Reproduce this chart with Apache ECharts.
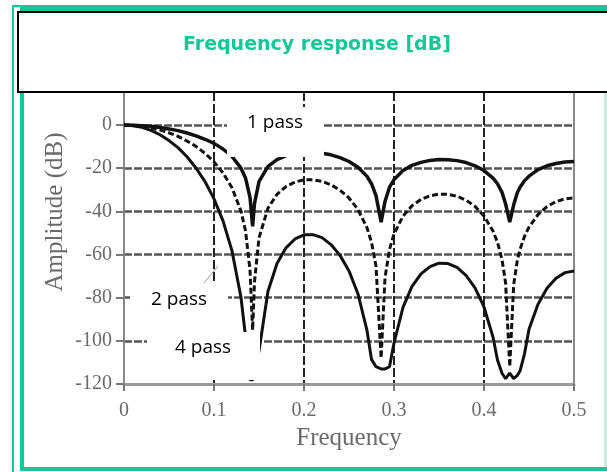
<!DOCTYPE html>
<html>
<head>
<meta charset="utf-8">
<script src="https://cdn.jsdelivr.net/npm/echarts@6/dist/echarts.min.js"></script>
<style>
html,body{margin:0;padding:0;background:#fff;overflow:hidden;}
#chart{width:607px;height:472px;}
</style>
</head>
<body>
<div id="chart"></div>
<script>
// Frequency (fraction of sampling rate)
const freq = [0,0.01,0.02,0.03,0.04,0.05,0.06,0.07,0.08,0.09,0.10,0.11,0.12,0.13,0.135,0.14,0.1429,0.145,0.15,0.16,0.17,0.18,0.19,0.20,0.21,0.22,0.23,0.24,0.25,0.26,0.27,0.275,0.28,0.2857,0.29,0.295,0.30,0.31,0.32,0.33,0.34,0.35,0.36,0.37,0.38,0.39,0.40,0.41,0.415,0.42,0.424,0.4286,0.433,0.437,0.44,0.445,0.45,0.46,0.47,0.48,0.49,0.50];
// Amplitude (dB)
const pass1 = [0,-0.1,-0.3,-0.6,-1.1,-1.8,-2.6,-3.7,-5.0,-6.6,-8.5,-11.1,-14.6,-20.0,-24.5,-33.5,-47,-36.3,-26.2,-19.2,-16.0,-14.2,-13.2,-12.7,-12.7,-13.1,-13.8,-15.1,-16.9,-19.6,-23.8,-27.2,-32.7,-45,-35.4,-28.8,-25.3,-21.1,-18.7,-17.3,-16.4,-16.0,-16.1,-16.5,-17.4,-18.9,-21.1,-24.6,-27.2,-31.2,-36.6,-45,-37.0,-31.4,-28.8,-25.8,-23.7,-20.7,-18.9,-17.8,-17.1,-16.9];
const pass2 = [0,-0.1,-0.6,-1.3,-2.3,-3.6,-5.3,-7.4,-9.9,-13.1,-17.1,-22.2,-29.1,-39.9,-49.0,-67.1,-95,-72.6,-52.3,-38.5,-32.1,-28.5,-26.4,-25.4,-25.4,-26.1,-27.7,-30.2,-33.8,-39.2,-47.6,-54.3,-65.4,-108,-70.8,-57.6,-50.5,-42.2,-37.4,-34.5,-32.8,-32.0,-32.1,-33.0,-34.8,-37.7,-42.2,-49.1,-54.4,-62.3,-73.2,-112,-73.9,-62.8,-57.7,-51.6,-47.3,-41.5,-37.8,-35.5,-34.2,-33.8];
const pass4 = [0,-0.3,-1.1,-2.5,-4.5,-7.2,-10.5,-14.7,-19.9,-26.2,-34.2,-44.4,-58.3,-79.9,-97.9,-118,-118,-117,-104.6,-77.0,-64.2,-56.9,-52.8,-50.9,-50.8,-52.2,-55.4,-60.4,-67.6,-78.3,-95.2,-108.6,-112,-113,-113,-112,-101.0,-84.5,-74.8,-69.0,-65.6,-64.0,-64.2,-66.0,-69.7,-75.5,-84.3,-98.3,-108.9,-115,-117.5,-115,-117.5,-116,-114,-106,-94.6,-83.0,-75.6,-71.0,-68.4,-67.6];
const seriesNames = ['1 pass', '2 pass', '4 pass'];
const titleText = 'Frequency response [dB]';
const xName = 'Frequency';
const yName = 'Amplitude (dB)';

const GREEN = '#12c898';
const SERIF = '"Liberation Serif", "DejaVu Serif", serif';
const SANS = '"Open Sans", "Noto Sans", sans-serif';

const chart = echarts.init(document.getElementById('chart'), null, {renderer: 'canvas'});
const pairs = arr => freq.map((f, i) => [f, arr[i]]);

const option = {
  animation: false,
  backgroundColor: '#fff',
  title: {
    text: titleText,
    left: 178,
    top: 31,
    textStyle: {color: GREEN, fontFamily: '"DejaVu Sans", sans-serif', fontWeight: 'bold', fontSize: 19},
    z: 20
  },
  grid: {
    left: 124, right: 33, top: 92, bottom: 88,
    show: true, borderColor: '#8a8a8a', borderWidth: 2, backgroundColor: 'transparent'
  },
  xAxis: {
    type: 'value', min: 0, max: 0.5, interval: 0.1,
    name: xName, nameLocation: 'middle', nameGap: 39,
    nameTextStyle: {fontFamily: SERIF, fontSize: 25, color: '#6a6a6a'},
    axisLine: {show: true, onZero: false, lineStyle: {color: '#999', width: 3}},
    axisTick: {show: true, length: 7, lineStyle: {color: '#777', width: 2}},
    axisLabel: {fontFamily: SERIF, fontSize: 20, color: '#6a6a6a', margin: 17},
    splitLine: {show: true, showMinLine: false, showMaxLine: false, lineStyle: {color: '#222', width: 2, type: [9, 3]}}
  },
  yAxis: {
    type: 'value', min: -120, max: 15.3, interval: 20,
    axisLine: {show: true, onZero: false, lineStyle: {color: '#888', width: 2}},
    axisTick: {show: true, length: 8, lineStyle: {color: '#777', width: 2}},
    axisLabel: {showMaxLabel: false, fontFamily: SERIF, fontSize: 20, color: '#6a6a6a', margin: 12},
    splitLine: {show: true, showMinLine: false, showMaxLine: false, lineStyle: {color: '#555', width: 2.5, type: [8, 2]}}
  },
  series: [
    {name: seriesNames[2], type: 'line', data: pairs(pass4), showSymbol: false, symbol: 'none', lineStyle: {color: '#111', width: 3}, z: 3},
    {name: seriesNames[1], type: 'line', data: pairs(pass2), showSymbol: false, symbol: 'none', lineStyle: {color: '#111', width: 3, type: [6, 3]}, z: 4},
    {name: seriesNames[0], type: 'line', data: pairs(pass1), showSymbol: false, symbol: 'none', lineStyle: {color: '#111', width: 3.5}, z: 5}
  ],
  graphic: [
    {type: 'polyline', z: 1, silent: true, shape: {points: [[13, 480], [13, 6], [620, 6]]}, style: {fill: 'none', stroke: GREEN, lineWidth: 2}},
    {type: 'polyline', z: 1, silent: true, shape: {points: [[620, 469], [22, 469], [22, 9], [620, 9]]}, style: {fill: 'none', stroke: GREEN, lineWidth: 4}},
    {type: 'line', z: 1, silent: true, shape: {x1: 605.5, y1: 93, x2: 605.5, y2: 467}, style: {stroke: '#c6efe0', lineWidth: 3}},
    {type: 'rect', z: 2, silent: true, shape: {x: 18, y: 12, width: 620, height: 80}, style: {fill: '#fff'}},
    {type: 'polyline', z: 3, silent: true, shape: {points: [[620, 12], [18, 12], [18, 92], [620, 92]]}, style: {fill: 'none', stroke: '#000', lineWidth: 2}},
    {type: 'text', z: 50, silent: true, x: 55, y: 212, rotation: Math.PI / 2,
      style: {text: yName, font: '25px ' + SERIF, fill: '#6a6a6a', textAlign: 'center', textVerticalAlign: 'middle'}},
    {type: 'line', z: 50, silent: true, shape: {x1: 199, y1: 289, x2: 218, y2: 266}, style: {stroke: '#999', lineWidth: 1}},
    {type: 'rect', z: 60, silent: true, shape: {x: 227, y: 107, width: 97, height: 50}, style: {fill: '#fff'}},
    {type: 'text', z: 61, silent: true, x: 275, y: 123, style: {text: seriesNames[0], font: '19px ' + SANS, fill: '#000', textAlign: 'center', textVerticalAlign: 'middle'}},
    {type: 'rect', z: 60, silent: true, shape: {x: 130, y: 283, width: 98, height: 49}, style: {fill: '#fff'}},
    {type: 'text', z: 61, silent: true, x: 179, y: 300, style: {text: seriesNames[1], font: '19px ' + SANS, fill: '#000', textAlign: 'center', textVerticalAlign: 'middle'}},
    {type: 'rect', z: 60, silent: true, shape: {x: 147, y: 332, width: 113, height: 48}, style: {fill: '#fff'}},
    {type: 'text', z: 61, silent: true, x: 203, y: 348, style: {text: seriesNames[2], font: '19px ' + SANS, fill: '#000', textAlign: 'center', textVerticalAlign: 'middle'}}
  ]
};
chart.setOption(option);
</script>
</body>
</html>
